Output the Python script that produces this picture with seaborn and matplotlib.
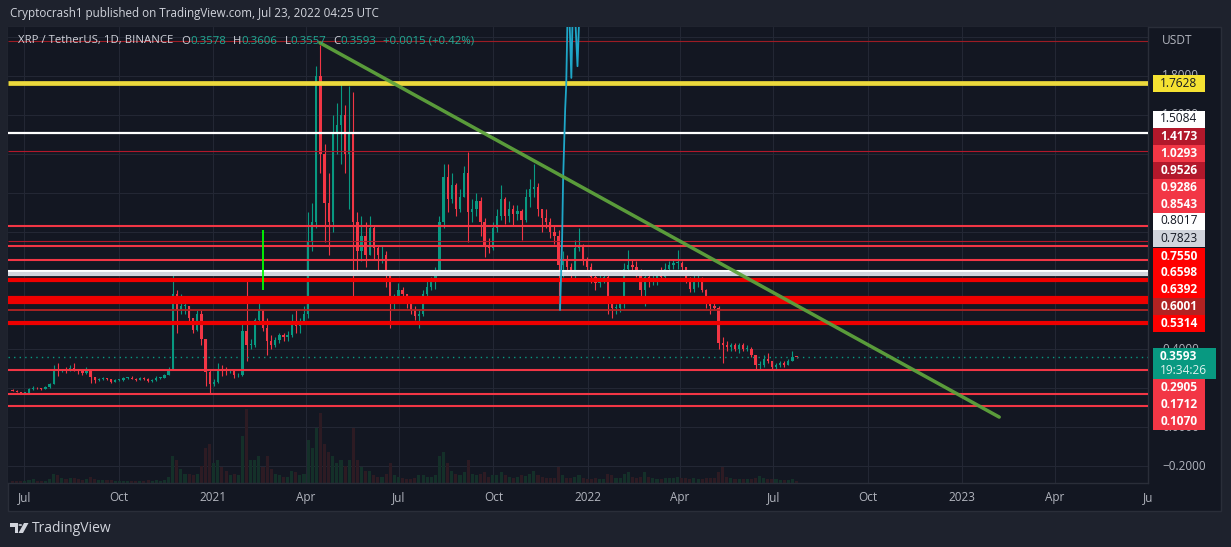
import numpy as np
import pandas as pd
import matplotlib
matplotlib.use("Agg")
import matplotlib.pyplot as plt
import matplotlib.dates as mdates
from matplotlib.patches import Rectangle, Polygon, Circle
import seaborn as sns

# ---------------- data ----------------
bar_start = "2020-06-18"   # first 4-day bar
bar_days = 4
first_open = 0.190

closes = [
    .187, .180, .175, .176, .196, .199, .198, .196, .205, .222,
    .300, .290, .292, .290, .305, .295, .285, .275, .285, .255,
    .240, .245, .250, .246, .232, .240, .242, .250, .253, .248,
    .242, .250, .247, .236, .240, .250, .252, .265, .300, .680,
    .600, .620, .620, .560, .500, .580, .450, .280, .220, .230,
    .300, .295, .290, .290, .265, .265, .490, .420, .420, .550,
    .600, .510, .440, .420, .445, .470, .460, .470, .530, .520,
    .540, .580, .950, 1.05, 1.80, 1.40, 1.15, 1.05, 1.50, 1.55,
    1.60, 1.40, 1.50, 1.05, .900, .980, .880, 1.02, .920, .880,
    .880, .800, .650, .650, .700, .680, .630, .600, .570, .580,
    .680, .720, .750, .800, 1.05, 1.28, 1.17, 1.24, 1.12, 1.18,
    1.30, 1.10, 1.12, 1.16, 1.05, .930, .920, 1.02, 1.08, 1.17,
    1.08, 1.12, 1.09, 1.11, 1.06, 1.18, 1.22, 1.23, 1.12, 1.07,
    1.05, 1.00, .980, .830, .850, .820, .790, .920, .930, .860,
    .820, .770, .740, .760, .770, .660, .610, .610, .630, .810,
    .830, .820, .800, .700, .770, .760, .760, .790, .770, .810,
    .830, .840, .840, .820, .760, .710, .750, .750, .700, .640,
    .620, .610, .430, .420, .410, .420, .400, .420, .400, .400,
    .370, .320, .320, .350, .340, .310, .320, .330, .320, .340,
    .360, .3593,
]
highs = [
    .195, .190, .182, .180, .201, .210, .204, .200, .210, .228,
    .320, .330, .300, .310, .320, .326, .297, .290, .310, .290,
    .255, .250, .258, .252, .248, .244, .248, .255, .258, .260,
    .252, .256, .257, .250, .245, .262, .258, .272, .310, .790,
    .700, .680, .640, .620, .560, .600, .600, .450, .300, .245,
    .330, .320, .310, .300, .295, .275, .530, .760, .450, .560,
    .650, .600, .560, .470, .460, .480, .480, .490, .580, .600,
    .560, .620, 1.10, 1.15, 1.85, 1.96, 1.45, 1.30, 1.60, 1.66,
    1.77, 1.65, 1.75, 1.72, 1.10, 1.08, 1.05, 1.08, 1.03, .930,
    .930, .900, .800, .680, .740, .720, .680, .640, .620, .600,
    .700, .760, .770, .820, 1.08, 1.35, 1.35, 1.30, 1.25, 1.22,
    1.34, 1.41, 1.17, 1.20, 1.18, 1.07, .970, 1.05, 1.12, 1.24,
    1.18, 1.16, 1.14, 1.14, 1.12, 1.22, 1.27, 1.35, 1.25, 1.12,
    1.12, 1.07, 1.03, 1.01, .900, .880, .840, .960, 1.02, .940,
    .870, .840, .780, .780, .800, .780, .670, .630, .650, .840,
    .910, .860, .850, .810, .790, .790, .790, .800, .820, .840,
    .850, .860, .910, .850, .820, .770, .780, .780, .770, .710,
    .660, .660, .620, .460, .440, .430, .430, .430, .430, .420,
    .410, .370, .340, .370, .380, .340, .330, .340, .340, .350,
    .390, .3606,
]
lows = [
    .183, .178, .172, .172, .175, .192, .194, .192, .193, .200,
    .220, .262, .282, .278, .288, .285, .270, .265, .270, .225,
    .226, .236, .240, .240, .225, .230, .235, .238, .245, .244,
    .238, .240, .243, .230, .232, .238, .245, .250, .265, .300,
    .480, .580, .580, .540, .480, .490, .420, .210, .175, .210,
    .225, .260, .265, .275, .250, .255, .260, .340, .400, .410,
    .530, .490, .370, .400, .410, .430, .440, .440, .460, .480,
    .480, .540, .560, .900, 1.02, 1.30, .950, .880, 1.00, 1.40,
    1.35, 1.30, 1.12, .650, .800, .850, .820, .880, .860, .800,
    .840, .720, .510, .600, .650, .650, .610, .580, .550, .510,
    .570, .670, .700, .710, .780, 1.02, 1.10, 1.15, 1.08, 1.10,
    1.18, .950, 1.05, 1.08, .980, .870, .890, .910, 1.00, 1.06,
    1.04, 1.05, 1.03, 1.06, .960, 1.05, 1.13, 1.18, 1.08, 1.00,
    1.02, .970, .940, .600, .770, .780, .750, .760, .900, .830,
    .800, .740, .700, .720, .740, .580, .560, .580, .590, .610,
    .790, .780, .770, .660, .620, .720, .730, .730, .750, .760,
    .790, .810, .810, .790, .740, .690, .690, .720, .690, .610,
    .580, .600, .400, .330, .390, .390, .390, .380, .390, .390,
    .360, .300, .290, .310, .330, .300, .300, .310, .310, .320,
    .340, .3557,
]
volumes = [
    3, 3, 2, 2, 4, 5, 3, 3, 3, 5,
    12, 10, 6, 5, 6, 6, 5, 4, 5, 8,
    5, 4, 4, 4, 4, 3, 3, 3, 3, 3,
    3, 3, 3, 4, 3, 4, 3, 4, 8,
    35, 30, 18, 12, 12, 10, 12, 22, 45, 50, 25,
    30, 20, 15, 10, 12, 10, 60, 95, 30, 30,
    35, 20, 35, 18, 12, 10, 8, 8, 15, 14, 10, 12,
    55, 45, 70, 90, 50, 40, 35, 25, 30, 22, 30, 70,
    30, 20, 15, 15, 10, 8, 8, 12, 25, 10, 8, 6, 5, 5, 6, 10, 10, 8,
    8, 10, 35, 40, 25, 15, 12, 10, 14, 30,
    12, 10, 12, 14, 8, 10, 10, 14, 10, 8,
    7, 8, 10, 9, 12, 15, 10, 8, 7, 7,
    6, 20, 10, 7, 6, 8, 10, 6, 5,
    5, 6, 5, 5, 12, 10, 6, 6, 12, 14,
    8, 7, 8, 14, 8, 6, 5, 5, 6, 7,
    7, 8, 6, 6, 5, 6, 5, 5, 7, 6,
    6, 14, 20, 8, 6, 5, 5, 5, 5, 5,
    7, 9, 6, 5, 5, 5, 4, 4, 4, 5, 2,
]

# horizontal price levels drawn on the chart
level_values = [1.98, 1.7628, 1.5084, 1.4173, 1.0293, 0.9526, 0.9286, 0.8543,
                0.8017, 0.7823, 0.7550, 0.6598, 0.6392, 0.6001, 0.5314,
                0.2905, 0.1712, 0.1070]
# price-scale labels
label_texts = ["1.7628", "1.5084", "1.4173", "1.0293", "0.9526", "0.9286",
               "0.8543", "0.8017", "0.7823", "0.7550", "0.6598", "0.6392",
               "0.6001", "0.5314", "0.2905", "0.1712", "0.1070"]
last_close = 0.3593
last_close_text = "0.3593"
countdown_text = "19:34:26"

cyan_dates = ["2021-12-05", "2021-12-07", "2021-12-08", "2021-12-10", "2021-12-11",
              "2021-12-13", "2021-12-16", "2021-12-18", "2021-12-22", "2021-12-25"]
cyan_values = [0.60, 0.96, 1.27, 1.63, 1.75, 2.30, 1.79, 2.30, 1.85, 2.30]

trend_dates = ["2021-04-15", "2023-02-06"]
trend_values = [1.97, 0.051]

marker_date = "2021-02-19"
marker_values = [1.01, 0.70]

xtick_dates = ["2020-07-01", "2020-10-01", "2021-01-01", "2021-04-01", "2021-07-01",
               "2021-10-01", "2022-01-01", "2022-04-01", "2022-07-01", "2022-10-01",
               "2023-01-01", "2023-04-01", "2023-07-01"]
xtick_labels = ["Jul", "Oct", "2021", "Apr", "Jul", "Oct", "2022", "Apr", "Jul",
                "Oct", "2023", "Apr", "Ju"]
# grid every 0.2; only the scale labels not covered by the price boxes are written
ygrid_values = [-0.2, 0.0, 0.2, 0.4, 0.6, 0.8, 1.0, 1.2, 1.4, 1.6, 1.8, 2.0]
ylabel_values = [-0.2, 0.0, 0.4, 1.6, 1.8]
ylabel_texts = ["\u22120.2000", "0.0000", "0.4000", "1.6000", "1.8000"]

header_title = "Cryptocrash1 published on TradingView.com, Jul 23, 2022 04:25 UTC"
legend_parts = [("XRP / TetherUS, 1D, BINANCE", "n"), ("O", "k"), ("0.3578", "v"),
                ("H", "k"), ("0.3606", "v"), ("L", "k"), ("0.3557", "v"),
                ("C", "k"), ("0.3593", "v"), ("+0.0015 (+0.42%)", "v")]

# ---------------- styles ----------------
W, H = 1231, 547
BG_OUT = "#1e222d"
BG = "#131722"
GRID = "#232734"
TXT = "#d1d4dc"
AXT = "#b2b5be"
UP = "#089981"
DOWN = "#f23645"
RED = "#f23645"
DRED = "#b2182b"
PRED = "#ff0000"

level_styles = [  # colour, linewidth (pt)
    ("#9c1c24", 0.8), ("#ecd93c", 3.4), ("#ffffff", 1.6), (DRED, 0.8),
    (RED, 1.5), (DRED, 0.8), (RED, 1.5), (RED, 1.5), ("#ffffff", 1.5),
    ("#d1d4dc", 3.0), ("#ee0000", 3.0), ("#ee0000", 3.0), ("#ee0000", 3.0),
    ("#b22222", 1.3), ("#ee0000", 3.0), (RED, 1.5), (RED, 1.5), (RED, 1.5),
]
label_styles = [  # y pixel centre, background, text colour, bold
    (83, "#f5e232", "#131722", False), (119, "#ffffff", "#131722", False),
    (136, DRED, "white", True), (153.5, RED, "white", True),
    (170.5, DRED, "white", True), (187.5, RED, "white", True),
    (204.5, RED, "white", True), (221, "#ffffff", "#131722", False),
    (238, "#d1d4dc", "#131722", False), (256, PRED, "white", True),
    (272.5, PRED, "white", True), (289.5, PRED, "white", True),
    (306.5, "#b22222", "white", True), (323.5, PRED, "white", True),
    (387.5, RED, "white", True), (404.5, RED, "white", True),
    (421.5, RED, "white", True),
]

sns.set_theme(style="dark")
plt.rcParams["font.family"] = ["Open Sans", "DejaVu Sans"]
plt.rcParams["axes.unicode_minus"] = True

fig = plt.figure(figsize=(W / 100, H / 100), dpi=100, facecolor=BG_OUT)


def fx(px):
    return px / W


def fy(py):
    return 1 - py / H


# chart panel background
fig.patches.append(Rectangle((fx(8), fy(511)), (1221 - 8) / W, (511 - 27) / H,
                             transform=fig.transFigure, facecolor=BG,
                             edgecolor="#2a2e39", lw=1.0, zorder=-5))

ax = fig.add_axes([fx(8), fy(483), 1140 / W, 456 / H])
ax.set_facecolor(BG)

x0 = mdates.date2num(pd.Timestamp("2020-06-15"))
x1 = mdates.date2num(pd.Timestamp("2023-07-01"))
ymin, ymax = -0.287, 2.051

# candles
n = len(closes)
bar_dates = pd.date_range(bar_start, periods=n, freq=f"{bar_days}D") + pd.Timedelta(days=1.5)
bx = mdates.date2num(bar_dates)
opens = np.array([first_open] + closes[:-1])
c = np.array(closes)
hi = np.array(highs)
lo = np.array(lows)
up = c >= opens
cols = np.where(up, UP, DOWN)

vol_cols = np.where(up, "#143029", "#2d1b23")
ax.bar(bx, np.array(volumes) * 0.0040, bottom=ymin, width=3.0, color=vol_cols,
       linewidth=0, zorder=1)

ax.vlines(bx, lo, hi, colors=cols, lw=0.8, zorder=3)
body_h = np.maximum(np.abs(c - opens), 0.004)
ax.bar(bx, body_h, bottom=np.minimum(c, opens), width=2.2, color=cols,
       linewidth=0, zorder=3.1)

# levels
for v, (col, lw) in zip(level_values, level_styles):
    ax.axhline(v, color=col, lw=lw, zorder=4, solid_capstyle="butt")

# last price dotted line
ax.axhline(last_close, color=UP, lw=1.0, ls=(0, (1, 3)), zorder=4)

# green vertical marker
mx = mdates.date2num(pd.Timestamp(marker_date))
ax.vlines([mx], marker_values[1], marker_values[0], colors="#00ff00", lw=1.3, zorder=4.6)

# cyan spike line
cx = mdates.date2num(pd.to_datetime(cyan_dates))
sns.lineplot(x=cx, y=cyan_values, ax=ax, color="#1fa7c8", lw=1.3, sort=False,
             zorder=4.5, estimator=None)

# trend line
tx = mdates.date2num(pd.to_datetime(trend_dates))
sns.lineplot(x=tx, y=trend_values, ax=ax, color="#5ea33c", lw=2.5, zorder=5,
             estimator=None, alpha=0.95)

ax.set_xlabel("")
ax.set_ylabel("")

# axes / ticks
ax.set_xticks(mdates.date2num(pd.to_datetime(xtick_dates)))
ax.set_xticklabels(xtick_labels)
ax.set_yticks(ygrid_values)
ax.set_yticklabels([""] * len(ygrid_values))
ax.tick_params(axis="x", length=0, pad=6, labelcolor=AXT, labelsize=8.5)
ax.tick_params(axis="y", length=0)
ax.grid(True, color=GRID, lw=0.8, zorder=0)
ax.set_axisbelow(True)
for s in ["top", "left"]:
    ax.spines[s].set_visible(False)
for s in ["bottom", "right"]:
    ax.spines[s].set_color("#2a2e39")
    ax.spines[s].set_linewidth(1.0)
ax.set_xlim(x0, x1)
ax.set_ylim(ymin, ymax)

# price-scale numbers (right side, partly hidden under the boxes)
for v, t in zip(ylabel_values, ylabel_texts):
    ax.text(1.0, v, t, transform=ax.get_yaxis_transform(), color=AXT,
            fontsize=8.5, ha="left", va="center", clip_on=False,
            zorder=2).set_x(1.0 + 14 / 1140)

# price scale boxes
for txt, (yc, bg, fg, bold) in zip(label_texts, label_styles):
    fig.patches.append(Rectangle((fx(1153), fy(yc + 8.5)), 52 / W, 17 / H,
                                 transform=fig.transFigure, facecolor=bg,
                                 edgecolor="none", zorder=5))
    fig.text(fx(1179), fy(yc), txt, color=fg, ha="center", va="center",
             fontsize=8.6, fontweight="bold" if bold else "normal", zorder=6)

fig.patches.append(Rectangle((fx(1153), fy(379)), 63 / W, 31 / H,
                             transform=fig.transFigure, facecolor=UP,
                             edgecolor="none", zorder=5))
fig.text(fx(1160), fy(356), last_close_text, color="white", ha="left", va="center",
         fontsize=8.6, fontweight="bold", zorder=6)
fig.text(fx(1160), fy(371), countdown_text, color="#e0f2ef", ha="left", va="center",
         fontsize=8.6, zorder=6)

fig.text(fx(1162), fy(41), "USDT", color=AXT, ha="left", va="center", fontsize=8.6)

# header
fig.text(fx(10), fy(14), header_title, color=TXT, ha="left", va="center",
         fontsize=8.4)

renderer = fig.canvas.get_renderer()
xpos = 18
prev_kind = None
for part, kind in legend_parts:
    col = {"n": TXT, "k": TXT, "v": "#22ab94"}[kind]
    if prev_kind is not None:
        if kind == "v" and prev_kind == "k":
            gap = 0
        elif prev_kind == "n":
            gap = 8
        else:
            gap = 7
        xpos += gap
    t = fig.text(fx(xpos), fy(41), part, color=col, ha="left", va="center",
                 fontsize=8.2)
    bb = t.get_window_extent(renderer)
    xpos = bb.x1
    prev_kind = kind

# footer logo
logo = "#d1d4dc"
fig.patches.append(Polygon([(fx(10), fy(523)), (fx(18), fy(523)), (fx(18), fy(533)),
                            (fx(14.5), fy(533)), (fx(14.5), fy(527)), (fx(10), fy(527))],
                           closed=True, transform=fig.transFigure, facecolor=logo,
                           edgecolor="none"))
fig.patches.append(Circle((fx(20.3), fy(525)), 1.9 / W, transform=fig.transFigure,
                          facecolor=logo, edgecolor="none"))
fig.patches.append(Polygon([(fx(24), fy(523)), (fx(28.5), fy(523)), (fx(23), fy(533)),
                            (fx(18.5), fy(533))], closed=True, transform=fig.transFigure,
                           facecolor=logo, edgecolor="none"))
fig.text(fx(32), fy(528), "TradingView", color=TXT, ha="left", va="center",
         fontsize=10)

fig.savefig("out.png", dpi=100, facecolor=BG_OUT)
